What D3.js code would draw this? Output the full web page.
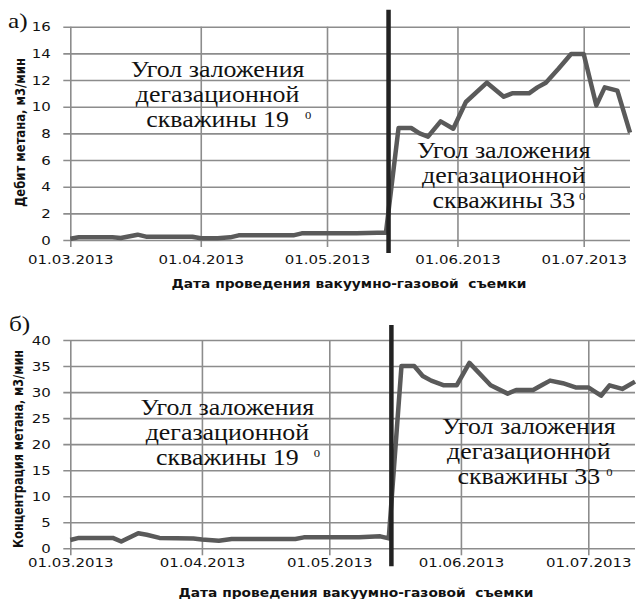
<!DOCTYPE html>
<html>
<head>
<meta charset="utf-8">
<script src="https://cdn.jsdelivr.net/npm/d3@7"></script>
<style>
  body { margin: 0; background: #fff; }
  svg { display: block; }
</style>
</head>
<body>
<div id="chart"></div>
<script>
// Survey dates (shared by both panels)
const dates = [
  "2013-03-01", "2013-03-03", "2013-03-11", "2013-03-13", "2013-03-17", "2013-03-19",
  "2013-03-22", "2013-03-30", "2013-04-01", "2013-04-05", "2013-04-08", "2013-04-10",
  "2013-04-23", "2013-04-25", "2013-05-08", "2013-05-13", "2013-05-15",
  "2013-05-18", "2013-05-21", "2013-05-23", "2013-05-25", "2013-05-28", "2013-05-31",
  "2013-06-03", "2013-06-08", "2013-06-12", "2013-06-14", "2013-06-18", "2013-06-20",
  "2013-06-22", "2013-06-25", "2013-06-28", "2013-07-01", "2013-07-04", "2013-07-06",
  "2013-07-09", "2013-07-12"
];

// a) methane flow, m3/min
const debit = [
  0.1, 0.2, 0.2, 0.15, 0.4, 0.25, 0.25, 0.25, 0.13, 0.13, 0.2, 0.35,
  0.35, 0.5, 0.5, 0.55, 0.55,
  8.4, 8.4, 8.0, 7.75, 8.9, 8.35, 10.35, 11.8, 10.75, 11.0, 11.0, 11.45,
  11.8, 12.85, 13.95, 13.95, 10.1, 11.45, 11.2, 8.05
];

// b) methane concentration
const concentration = [
  1.6, 2.0, 2.0, 1.3, 2.9, 2.6, 2.0, 1.9, 1.7, 1.45, 1.8, 1.8,
  1.8, 2.1, 2.1, 2.3, 1.9,
  35.0, 35.0, 33.1, 32.2, 31.3, 31.3, 35.6, 31.3, 29.7, 30.4, 30.4, 31.3,
  32.2, 31.7, 30.9, 30.9, 29.3, 31.3, 30.6, 32.0
];

const xTicks = ["2013-03-01", "2013-04-01", "2013-05-01", "2013-06-01", "2013-07-01"];
const debitTicks = [0, 2, 4, 6, 8, 10, 12, 14, 16];
const concTicks = [0, 5, 10, 15, 20, 25, 30, 35, 40];
const xDomain = ["2013-03-01", "2013-07-12"];
const dividerDate = "2013-05-15 15:00";

const noteLines = ["Угол заложения", "дегазационной", "скважины"];
const xTitle = "Дата проведения вакуумно-газовой  съемки";

const W = 639, H = 599;
const stretch = 1.15;          // the source picture is a bit wider than tall
const gridColor = "#8c8c8c";
const lineColor = "#5a5a5a";
const serif = "Liberation Serif";

const parse = d3.timeParse("%Y-%m-%d");
const parseTime = d3.timeParse("%Y-%m-%d %H:%M");
const fmt = d3.timeFormat("%d.%m.%Y");

const svg = d3.select("#chart")
    .append("svg")
    .attr("width", W)
    .attr("height", H);

const panels = [
  {
    label: "а)", labelX: 8, labelY: 28,
    values: debit, ticks: debitTicks,
    left: 70.3, right: 630, top: 26.7, bottom: 240,
    yTitle: "Дебит метана, м3/мин", yTitleX: 20, yTitleY: 132.5, yTitleLen: 149,
    tickLabelY: 19.5, xTitleX: 349, xTitleY: 284,
    divTop: 17, divBottom: 13,
    notes: [
      { date: "2013-04-05", value: 12.23, angle: "19", gap: 16 },
      { date: "2013-06-12", value: 6.14, angle: "33", gap: 4 }
    ]
  },
  {
    label: "б)", labelX: 9, labelY: 331,
    values: concentration, ticks: concTicks,
    left: 70.3, right: 635, top: 340, bottom: 548.3,
    yTitle: "Концентрация метана, м3/мин", yTitleX: 18, yTitleY: 449, yTitleLen: 198,
    tickLabelY: 14, xTitleX: 356, xTitleY: 592.5,
    divTop: 15, divBottom: 18,
    notes: [
      { date: "2013-04-07", value: 25.6, angle: "19", gap: 15 },
      { date: "2013-06-17", value: 21.9, angle: "33", gap: 6 }
    ]
  }
];

panels.forEach(p => {
    const data = dates.map((d, i) => ({ date: parse(d), v: p.values[i] }));

    const x = d3.scaleTime()
        .domain(xDomain.map(parse))
        .range([p.left, p.right]);

    const y = d3.scaleLinear()
        .domain([0, d3.max(p.ticks)])
        .range([p.bottom, p.top]);

    const g = svg.append("g");

    // Horizontal grid + y labels
    const yAxis = g.append("g")
        .attr("transform", `translate(${p.left},0)`)
        .call(d3.axisLeft(y).tickValues(p.ticks).tickSize(-(p.right - p.left)).tickFormat(d3.format("d")));
    yAxis.select(".domain").remove();
    yAxis.selectAll(".tick line")
        .attr("x1", -7)
        .attr("stroke", gridColor)
        .attr("stroke-width", 1.6);
    yAxis.selectAll(".tick text")
        .attr("x", -19.5 / stretch)
        .attr("transform", `scale(${stretch},1)`)
        .attr("font-family", "DejaVu Sans")
        .attr("font-size", 13)
        .attr("fill", "#111");

    // Vertical grid + date labels
    const xAxis = g.append("g")
        .attr("transform", `translate(0,${p.bottom})`)
        .call(d3.axisBottom(x).tickValues(xTicks.map(parse)).tickSize(-(p.bottom - p.top)).tickFormat(fmt));
    xAxis.select(".domain").remove();
    xAxis.selectAll(".tick line")
        .attr("y1", 7)
        .attr("stroke", gridColor)
        .attr("stroke-width", 1.6);
    xAxis.selectAll(".tick text")
        .attr("y", p.tickLabelY)
        .attr("dy", "0.36em")
        .attr("transform", `scale(${stretch},1)`)
        .attr("font-family", "DejaVu Sans")
        .attr("font-size", 13)
        .attr("fill", "#111");

    // Series
    g.append("path")
        .datum(data)
        .attr("fill", "none")
        .attr("stroke", lineColor)
        .attr("stroke-width", 4.5)
        .attr("stroke-linejoin", "round")
        .attr("d", d3.line().x(d => x(d.date)).y(d => y(d.v)));

    // Divider between the two borehole angles
    const xd = x(parseTime(dividerDate));
    g.append("line")
        .attr("x1", xd).attr("x2", xd)
        .attr("y1", p.top - p.divTop)
        .attr("y2", p.bottom + p.divBottom)
        .attr("stroke", "#222")
        .attr("stroke-width", 4.5);

    // Notes
    p.notes.forEach(n => {
        const ng = g.append("g")
            .attr("transform", `translate(${x(parse(n.date))},${y(n.value)}) scale(${stretch},1)`);
        const lines = [noteLines[0], noteLines[1], `${noteLines[2]} ${n.angle}`];
        let last;
        lines.forEach((t, i) => {
            last = ng.append("text")
                .attr("text-anchor", "middle")
                .attr("y", i * 25)
                .attr("font-family", serif)
                .attr("font-size", 22.5)
                .attr("fill", "#111")
                .text(t);
        });
        const bb = last.node().getBBox();
        ng.append("text")
            .attr("x", bb.x + bb.width + n.gap / stretch)
            .attr("y", 2 * 25 - 8)
            .attr("font-family", serif)
            .attr("font-size", 11)
            .attr("fill", "#111")
            .text("0");
    });

    // Panel label
    svg.append("text")
        .attr("transform", `translate(${p.labelX},${p.labelY}) scale(${stretch},1)`)
        .attr("font-family", serif)
        .attr("font-size", 22)
        .attr("fill", "#111")
        .text(p.label);

    // Y title
    svg.append("text")
        .attr("transform", `translate(${p.yTitleX},${p.yTitleY}) rotate(-90)`)
        .attr("text-anchor", "middle")
        .attr("dy", "0.35em")
        .attr("font-family", "DejaVu Sans Condensed")
        .attr("font-weight", "bold")
        .attr("font-size", 13.5)
        .attr("textLength", p.yTitleLen)
        .attr("lengthAdjust", "spacingAndGlyphs")
        .attr("fill", "#111")
        .text(p.yTitle);

    // X title
    svg.append("text")
        .attr("transform", `translate(${p.xTitleX},${p.xTitleY}) scale(${stretch},1)`)
        .attr("text-anchor", "middle")
        .attr("dy", "0.35em")
        .attr("font-family", "DejaVu Sans")
        .attr("font-weight", "bold")
        .attr("font-size", 12)
        .attr("fill", "#111")
        .style("white-space", "pre")
        .text(xTitle);
});
</script>
</body>
</html>
